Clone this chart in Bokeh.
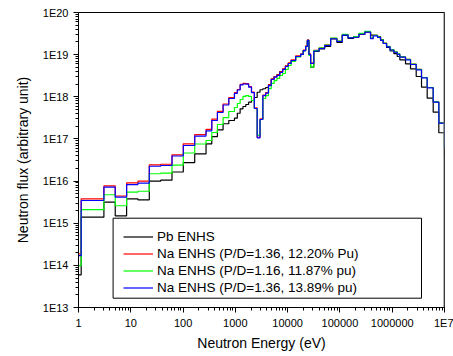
from bokeh.plotting import figure
from bokeh.models import FixedTicker, Legend, LegendItem, Span, BoxAnnotation, Title
from bokeh.embed import file_html
from bokeh.resources import INLINE

# ---- data (group lower-edge energies in eV, flux per group; last point = 1E7 end) ----
energy_ev = [1.0, 1.125, 3.06, 5.04, 8.32, 13.7, 22.6, 37.3, 61.4, 101, 167, 275, 354, 454,
             583, 749, 961, 1090, 1234, 1398, 1585, 1795, 2035, 2306, 2613, 2961, 3355,
             3800, 4300, 4860, 5520, 6240, 7060, 8020, 9070, 10260, 11660, 14200, 17700,
             19900, 22100, 23800, 25500, 27500, 31600, 40000, 50900, 66300, 87500, 111000,
             143000, 182000, 230000, 300000, 385000, 434000, 524000, 598000, 674000, 779000,
             909000, 1074000, 1247000, 1398000, 1797000, 2239000, 2877000, 3634000, 4667000,
             6080000, 7786000, 10000000]

pb_enhs = [5.97e13, 1.39e15, 3.18e15, 1.50e15, 3.79e15, 3.59e15, 9.93e15, 1.05e16, 1.64e16,
           2.75e16, 4.44e16, 7.66e16, 1.14e17, 1.64e17, 2.29e17, 2.74e17, 3.10e17, 4.07e17,
           5.19e17, 5.88e17, 6.56e17, 7.43e17, 8.17e17, 9.61e17, 1.28e18, 1.47e18, 1.55e18,
           1.66e18, 1.95e18, 2.64e18, 3.03e18, 3.38e18, 3.98e18, 4.56e18, 5.37e18, 6.17e18,
           7.26e18, 9.03e18, 1.01e19, 1.25e19, 1.56e19, 2.11e19, 1.01e19, 5.04e18, 1.19e19,
           1.36e19, 1.56e19, 2.35e19, 1.94e19, 2.85e19, 2.42e19, 2.59e19, 3.01e19, 3.45e19,
           2.92e19, 2.85e19, 2.69e19, 2.29e19, 1.84e19, 1.48e19, 1.22e19, 1.06e19, 9.03e18,
           7.55e18, 6.07e18, 4.61e18, 3.03e18, 1.69e18, 9.25e17, 4.31e17, 1.40e17, 3.62e16]

na_136_1220 = [1.88e14, 3.79e15, 7.71e15, 4.42e15, 9.10e15, 9.93e15, 2.43e16, 2.51e16, 4.20e16,
               7.66e16, 1.27e17, 1.69e17, 2.94e17, 4.52e17, 6.75e17, 9.61e17, 1.25e18, 1.49e18,
               1.97e18, 2.07e18, 2.05e18, 1.74e18, 1.30e18, 5.43e17, 1.09e17, 2.98e17, 1.10e18,
               1.26e18, 1.91e18, 2.65e18, 3.01e18, 3.30e18, 3.88e18, 4.57e18, 5.39e18, 6.36e18,
               7.48e18, 9.30e18, 1.04e19, 1.29e19, 1.61e19, 2.24e19, 1.04e19, 6.36e18, 1.26e19,
               1.44e19, 1.70e19, 2.42e19, 2.10e19, 2.97e19, 2.55e19, 2.63e19, 3.10e19, 3.46e19,
               2.42e19, 2.85e19, 2.59e19, 2.21e19, 1.87e19, 1.56e19, 1.31e19, 1.16e19, 1.03e19,
               8.85e18, 7.68e18, 5.93e18, 4.45e18, 2.87e18, 1.66e18, 7.56e17, 2.40e17, 6.25e16]

na_116_1187 = [9.9e13, 2.09e15, 4.74e15, 2.60e15, 5.44e15, 5.74e15, 1.49e16, 1.54e16, 2.40e16,
               4.63e16, 7.57e16, 9.18e16, 1.42e17, 2.20e17, 3.22e17, 4.48e17, 5.57e17, 6.93e17,
               8.61e17, 1.02e18, 1.07e18, 1.02e18, 8.17e17, 5.27e17, 1.21e17, 2.89e17, 9.1e17,
               1.07e18, 1.57e18, 2.07e18, 2.43e18, 2.72e18, 3.20e18, 3.57e18, 4.44e18, 5.52e18,
               6.87e18, 8.79e18, 1.01e19, 1.25e19, 1.56e19, 2.17e19, 9.55e18, 5.04e18, 1.25e19,
               1.44e19, 1.69e19, 2.48e19, 2.11e19, 3.04e19, 2.55e19, 2.67e19, 3.18e19, 3.58e19,
               2.48e19, 2.85e19, 2.62e19, 2.23e19, 1.89e19, 1.58e19, 1.32e19, 1.17e19, 1.04e19,
               8.85e18, 7.68e18, 5.93e18, 4.45e18, 2.87e18, 1.66e18, 7.56e17, 2.40e17, 6.25e16]

na_136_1389 = [1.7e14, 3.46e15, 7.15e15, 4.14e15, 8.28e15, 8.89e15, 2.25e16, 2.34e16, 3.94e16,
               6.98e16, 1.17e17, 1.56e17, 2.74e17, 4.24e17, 6.38e17, 9.1e17, 1.20e18, 1.45e18,
               1.91e18, 2.01e18, 1.99e18, 1.69e18, 1.26e18, 5.27e17, 1.06e17, 2.89e17, 1.07e18,
               1.22e18, 1.85e18, 2.57e18, 2.92e18, 3.20e18, 3.77e18, 4.44e18, 5.23e18, 6.17e18,
               7.26e18, 9.03e18, 1.01e19, 1.25e19, 1.56e19, 2.17e19, 1.01e19, 6.17e18, 1.22e19,
               1.40e19, 1.65e19, 2.38e19, 2.05e19, 2.92e19, 2.51e19, 2.59e19, 3.05e19, 3.41e19,
               2.38e19, 2.80e19, 2.55e19, 2.17e19, 1.84e19, 1.53e19, 1.29e19, 1.14e19, 1.01e19,
               8.69e18, 7.55e18, 5.83e18, 4.37e18, 2.82e18, 1.63e18, 7.43e17, 2.36e17, 6.25e16]

series_labels = ["Pb ENHS",
                 "Na ENHS (P/D=1.36, 12.20% Pu)",
                 "Na ENHS (P/D=1.16, 11.87% pu)",
                 "Na ENHS (P/D=1.36, 13.89% pu)"]
series_colors = ["#000000", "#ff0000", "#00ff00", "#0000ff"]

x_ticks = [1.0, 10.0, 100.0, 1000.0, 10000.0, 100000.0, 1000000.0, 10000000.0]
x_tick_labels = ["1", "10", "100", "1000", "10000", "100000", "1000000", "1E7"]
y_ticks = [1e13, 1e14, 1e15, 1e16, 1e17, 1e18, 1e19, 1e20]
y_tick_labels = ["1E13", "1E14", "1E15", "1E16", "1E17", "1E18", "1E19", "1E20"]

FONT = "Liberation Sans"

p = figure(x_axis_type="log", y_axis_type="log",
           x_range=(1, 1e7), y_range=(1e13, 1e20),
           frame_width=366, frame_height=295,
           min_border_left=78, min_border_right=9, min_border_top=12, min_border_bottom=0,
           output_backend="svg", toolbar_location=None)
p.xgrid.visible = False
p.ygrid.visible = False
p.outline_line_color = "black"
p.outline_line_width = 1
p.background_fill_color = "white"
p.border_fill_color = "white"

renderers = []
for vals, col in zip([pb_enhs, na_136_1220, na_116_1187, na_136_1389], series_colors):
    r = p.step(energy_ev, vals, mode="after", line_color=col, line_width=1.2)
    renderers.append(r)

x_minor = [m * t for t in x_ticks[:-1] for m in range(2, 10)]
y_minor = [m * t for t in y_ticks[:-1] for m in range(2, 10)]
p.xaxis.ticker = FixedTicker(ticks=x_ticks, minor_ticks=x_minor)
p.yaxis.ticker = FixedTicker(ticks=y_ticks, minor_ticks=y_minor)
p.xaxis.major_label_overrides = dict(zip(x_ticks, x_tick_labels))
p.yaxis.major_label_overrides = dict(zip(y_ticks, y_tick_labels))

for ax in (p.xaxis[0], p.yaxis[0]):
    ax.major_tick_in = 0
    ax.major_tick_out = 5
    ax.minor_tick_in = 0
    ax.minor_tick_out = 3
    ax.axis_line_color = "black"
    ax.major_tick_line_color = "black"
    ax.minor_tick_line_color = "black"
    ax.major_label_text_font = FONT
    ax.major_label_text_font_size = "11px"
    ax.major_label_text_color = "black"
    ax.axis_label_text_font = FONT
    ax.axis_label_text_font_size = "14px"
    ax.axis_label_text_font_style = "normal"
    ax.axis_label_text_color = "black"

p.xaxis.axis_label = "Neutron Energy (eV)"
p.xaxis.axis_label_standoff = 3
p.xaxis.major_label_standoff = 4
p.yaxis.major_label_standoff = 5

# y-axis title: a left-side title, nudged a little above the frame centre as in the original
p.add_layout(Title(text="Neutron flux (arbitrary unit)", align="center", offset=10,
                   standoff=18, text_font=FONT, text_font_size="14px",
                   text_font_style="normal", text_color="black"), "left")

p.add_layout(Span(location=1e7, dimension="height", line_color="#6e6e6e", line_width=2))

box = BoxAnnotation(left=34.6, right=343.0, bottom=9.3, top=89.3,
                    left_units="screen", right_units="screen",
                    bottom_units="screen", top_units="screen",
                    fill_color="white", fill_alpha=1.0,
                    line_color="black", line_width=1, line_alpha=1.0)
p.add_layout(box)

legend = Legend(items=[LegendItem(label=lab, renderers=[r]) for lab, r in zip(series_labels, renderers)],
                location=(45, 11.5), padding=0, spacing=0, margin=0,
                label_height=17, glyph_height=17, glyph_width=30, label_standoff=4,
                border_line_alpha=0, background_fill_alpha=0,
                label_text_font=FONT, label_text_font_size="13.5px", label_text_color="black")
p.add_layout(legend)

open("out.html", "w").write(file_html(p, INLINE))
